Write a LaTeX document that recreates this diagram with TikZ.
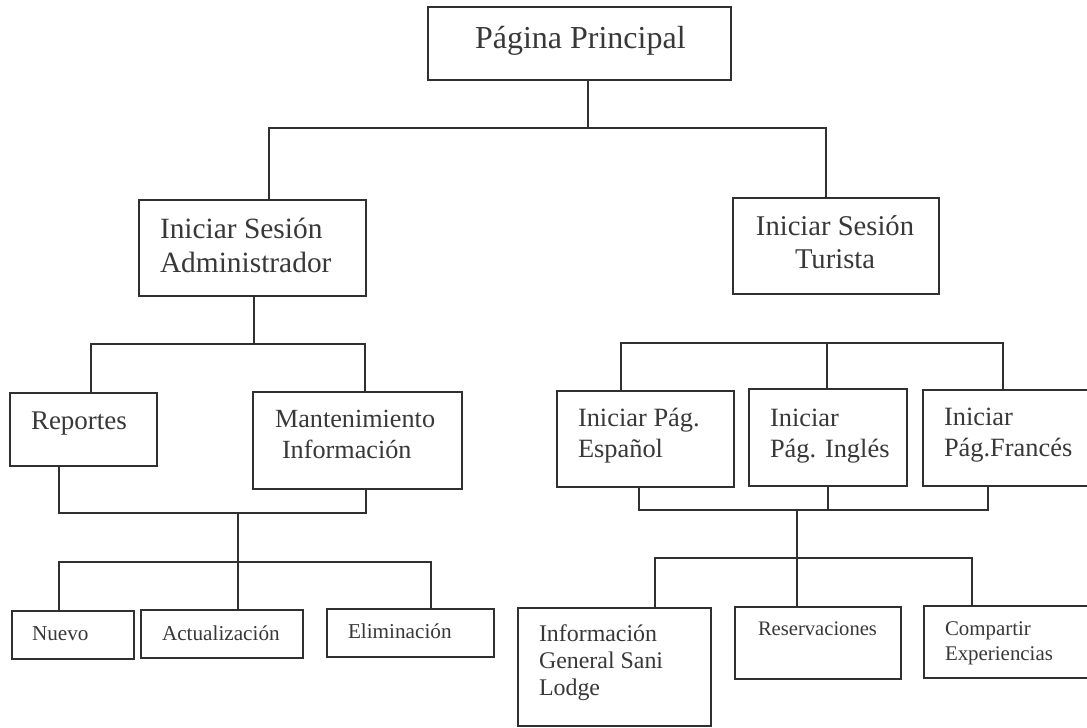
\documentclass[tikz,border=0pt]{standalone}
\usepackage{fontspec}
\setmainfont{Liberation Serif}
\definecolor{ln}{HTML}{303030}
\definecolor{tx}{HTML}{383838}
\begin{document}
\begin{tikzpicture}[x=1pt,y=-1pt,
  box/.style={draw=ln, line width=1.4pt, inner sep=0pt, outer sep=0pt},
  lbl/.style={anchor=base west, inner sep=0pt, outer sep=0pt, text=tx},
  clbl/.style={anchor=base, inner sep=0pt, outer sep=0pt, text=tx},
  conn/.style={draw=ln, line width=1.3pt}]
\useasboundingbox (0,0) rectangle (1087,728);
\clip (0,0) rectangle (1087,728);
\fill[white] (0,0) rectangle (1087,728);

% ---------- boxes ----------
\node[box, minimum width=303pt, minimum height=73pt] (top)   at (579.5,43.5) {};
\node[box, minimum width=227pt, minimum height=96pt] (admin) at (252.5,248) {};
\node[box, minimum width=206pt, minimum height=96pt] (tur)   at (836,246) {};
\node[box, minimum width=147pt, minimum height=73pt] (rep)   at (83.5,429.5) {};
\node[box, minimum width=209pt, minimum height=97pt] (mant)  at (357.5,440.5) {};
\node[box, minimum width=122pt, minimum height=48pt] (nuevo) at (73,635) {};
\node[box, minimum width=162pt, minimum height=48pt] (act)   at (222,634) {};
\node[box, minimum width=167pt, minimum height=48pt] (elim)  at (410.5,633) {};
\node[box, minimum width=177pt, minimum height=96pt] (esp)   at (645.5,439) {};
\node[box, minimum width=158pt, minimum height=97pt] (ing)   at (828,437.5) {};
\node[box, minimum width=172pt, minimum height=96pt] (fra)   at (1009,438) {};
\node[box, minimum width=193pt, minimum height=118pt] (info) at (614.5,667) {};
\node[box, minimum width=166pt, minimum height=72pt] (res)   at (818,643) {};
\node[box, minimum width=171pt, minimum height=72pt] (comp)  at (1009.5,642) {};

% ---------- texts ----------
\node[lbl, font=\fontsize{32}{38}\selectfont] (tTop) at (475,48) {Página Principal};
\node[lbl, font=\fontsize{29.4}{34}\selectfont] (tAd1) at (160,238) {Iniciar Sesión};
\node[lbl, font=\fontsize{29.4}{34}\selectfont] (tAd2) at (160,272) {Administrador};
\node[clbl, font=\fontsize{28.6}{34}\selectfont] (tTu1) at (835,235) {Iniciar Sesión};
\node[clbl, font=\fontsize{28.6}{34}\selectfont] (tTu2) at (835,268) {Turista};
\node[lbl, font=\fontsize{27}{32}\selectfont] (tRep) at (31,429) {Reportes};
\node[lbl, font=\fontsize{26.2}{31}\selectfont] (tMa1) at (275,427) {Mantenimiento};
\node[lbl, font=\fontsize{26.2}{31}\selectfont] (tMa2) at (282,458) {Información};
\node[lbl, font=\fontsize{21.2}{25}\selectfont] (tNue) at (32,640) {Nuevo};
\node[lbl, font=\fontsize{21.2}{25}\selectfont] (tAct) at (162,640) {Actualización};
\node[lbl, font=\fontsize{21.2}{25}\selectfont] (tEli) at (348,638) {Eliminación};
\node[lbl, font=\fontsize{26.4}{31}\selectfont] (tEs1) at (578,426) {Iniciar Pág.};
\node[lbl, font=\fontsize{26.4}{31}\selectfont] (tEs2) at (578,457) {Español};
\node[lbl, font=\fontsize{26.4}{31}\selectfont] (tIn1) at (770,426) {Iniciar};
\node[lbl, font=\fontsize{26.4}{31}\selectfont] (tIn2) at (770,457) {Pág. Inglés};
\node[lbl, font=\fontsize{26.4}{31}\selectfont] (tFr1) at (944,425) {Iniciar};
\node[lbl, font=\fontsize{26.4}{31}\selectfont] (tFr2) at (944,456) {Pág.Francés};
\node[lbl, font=\fontsize{23.9}{28}\selectfont] (tIf1) at (539,641) {Información};
\node[lbl, font=\fontsize{23.9}{28}\selectfont] (tIf2) at (539,668) {General Sani};
\node[lbl, font=\fontsize{23.9}{28}\selectfont] (tIf3) at (539,695) {Lodge};
\node[lbl, font=\fontsize{20.6}{25}\selectfont] (tRes) at (758,635) {Reservaciones};
\node[lbl, font=\fontsize{20.9}{25}\selectfont] (tCo1) at (945,635) {Compartir};
\node[lbl, font=\fontsize{20.9}{25}\selectfont] (tCo2) at (945,660) {Experiencias};

% ---------- connectors ----------
\coordinate (j0)  at (588,128);
\coordinate (j0L) at (269,128);
\coordinate (j0R) at (826,128);
\draw[conn] (top.south -| j0) -- (j0);
\draw[conn] (admin.north -| j0L) -- (j0L) -- (j0R) -- (tur.north -| j0R);

\coordinate (j1)  at (254,344);
\coordinate (j1L) at (91,344);
\coordinate (j1R) at (365,344);
\draw[conn] (admin.south -| j1) -- (j1);
\draw[conn] (rep.north -| j1L) -- (j1L) -- (j1R) -- (mant.north -| j1R);

\coordinate (j2L) at (59,513);
\coordinate (j2R) at (366,513);
\coordinate (j2)  at (238,513);
\draw[conn] (rep.south -| j2L) -- (j2L) -- (j2R) -- (mant.south -| j2R);
\draw[conn] (j2) -- (act.north -| j2);
\coordinate (j3L) at (59,562);
\coordinate (j3R) at (431,562);
\draw[conn] (nuevo.north -| j3L) -- (j3L) -- (j3R) -- (elim.north -| j3R);

\coordinate (k1L) at (621,343);
\coordinate (k1M) at (827,343);
\coordinate (k1R) at (1003,343);
\draw[conn] (esp.north -| k1L) -- (k1L) -- (k1R) -- (fra.north -| k1R);
\draw[conn] (k1M) -- (ing.north -| k1M);

\coordinate (k2L) at (639,510);
\coordinate (k2M) at (828,510);
\coordinate (k2R) at (988,510);
\coordinate (k2)  at (797,510);
\draw[conn] (esp.south -| k2L) -- (k2L) -- (k2R) -- (fra.south -| k2R);
\draw[conn] (ing.south -| k2M) -- (k2M);
\draw[conn] (k2) -- (res.north -| k2);
\coordinate (k3L) at (655,558);
\coordinate (k3R) at (972,558);
\draw[conn] (info.north -| k3L) -- (k3L) -- (k3R) -- (comp.north -| k3R);
\end{tikzpicture}
\end{document}
